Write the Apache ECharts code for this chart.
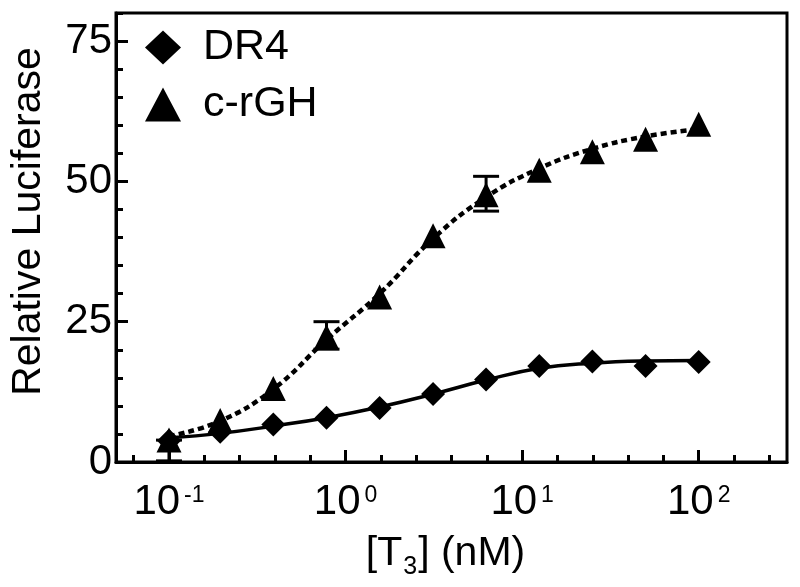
<!DOCTYPE html>
<html><head><meta charset="utf-8">
<script src="https://cdn.jsdelivr.net/npm/echarts@6/dist/echarts.min.js"></script>
<style>html,body{margin:0;padding:0;background:#fff}#c{width:800px;height:587px}</style>
</head><body><div id="c"></div>
<script>
// ---- data ----
const concentrations = [0.1, 0.195, 0.39, 0.78, 1.56, 3.13, 6.25, 12.5, 25, 50, 100]; // nM
const dr4Values  = [3.8, 5.4, 6.7, 7.9, 9.6, 12.1, 14.7, 17.1, 17.9, 17.1, 17.8];
const crghValues = [3.9, 7.4, 13.1, 22.3, 29.4, 40.3, 47.6, 52.0, 55.3, 57.5, 60.2];
// fitted curves, read at the same concentrations
const dr4Fit  = [4.3, 5.1, 6.4, 7.9, 9.8, 12.1, 14.6, 16.7, 17.6, 18.0, 18.1];
const crghFit = [4.6, 7.3, 13.0, 21.8, 30.0, 39.8, 47.2, 52.3, 55.8, 58.0, 59.3];
// visible error bars of c-rGH (lower / upper ends)
const errConc = [0.1, 0.78, 6.25];
const errLow  = [0.2, 20.1, 44.7];
const errHigh = [3.9, 25.0, 50.9];
// axes
const xMajorTicks = [0.1, 1, 10, 100];
const xMinorExponents = [-1.2,-1.0,-0.8,-0.6,-0.4,-0.2,0,0.2,0.4,0.6,0.8,1.0,1.2,1.4,1.6,1.8,2.0,2.2,2.4];
const yTickLabels = [0, 25, 50, 75];
const seriesNames = ['DR4', 'c-rGH'];

const FONT = 'Liberation Sans, Arial, Helvetica, sans-serif';
const xMin = Math.pow(10, -1.3), xMax = Math.pow(10, 2.5);
const xMinorTicks = xMinorExponents.map(e => Math.pow(10, e));

const pairs = (xs, ys) => xs.map((x, i) => [x, ys[i]]);
const errData = errConc.map((x, i) => [x, errLow[i], errHigh[i]]);

const chart = echarts.init(document.getElementById('c'), null, {renderer: 'canvas'});
chart.setOption({
  animation: false,
  backgroundColor: '#fff',
  textStyle: {fontFamily: FONT, color: '#000'},
  grid: {left: 115, right: 13, top: 13, bottom: 125, show: true, borderColor: '#000', borderWidth: 3, backgroundColor: 'transparent'},
  legend: {
    orient: 'vertical', left: 145, top: 26, padding: 0,
    itemWidth: 36, itemHeight: 34, itemGap: 14,
    itemStyle: {opacity: 1},
    textStyle: {fontSize: 43, color: '#000', fontFamily: FONT, padding: [0, 0, 0, 17]},
    data: [{name: seriesNames[0], icon: 'diamond'}, {name: seriesNames[1], icon: 'triangle'}]
  },
  xAxis: [{
    type: 'log', logBase: 10, min: xMin, max: xMax,
    axisLine: {lineStyle: {color: '#000', width: 3}},
    axisTick: {inside: true, length: 7, lineStyle: {color: '#000', width: 3}, customValues: xMinorTicks},
    splitLine: {show: false},
    axisLabel: {
      customValues: xMajorTicks, margin: 19,
      formatter: v => '{b|10}{s|' + Math.round(Math.log10(v)) + '}',
      rich: {
        b: {fontSize: 42, color: '#000', fontFamily: FONT},
        s: {fontSize: 23, color: '#000', fontFamily: FONT, verticalAlign: 'top', padding: [3, 0, 0, 4]}
      }
    },
    name: '{m|[T}{sub|3}{m|] (nM)}', nameLocation: 'middle', nameGap: 65,
    nameTextStyle: {
      rich: {
        m: {fontSize: 41, color: '#000', fontFamily: FONT, verticalAlign: 'middle'},
        sub: {fontSize: 25, color: '#000', fontFamily: FONT, verticalAlign: 'middle', padding: [28, 1, 0, 1]}
      },
      padding: [0, 12, 0, 0]
    }
  }, {
    type: 'log', logBase: 10, min: xMin, max: xMax, position: 'bottom',
    axisLine: {show: false},
    axisTick: {inside: true, length: 12, lineStyle: {color: '#000', width: 3}, customValues: xMajorTicks},
    axisLabel: {show: false}, splitLine: {show: false}
  }],
  yAxis: [{
    type: 'value', min: 0, max: 80, interval: 5,
    axisLine: {show: true, lineStyle: {color: '#000', width: 3}},
    axisTick: {show: true, inside: true, length: 7, lineStyle: {color: '#000', width: 3}},
    splitLine: {show: false},
    axisLabel: {customValues: yTickLabels, fontSize: 42, color: '#000', fontFamily: FONT, margin: 4},
    name: 'Relative Luciferase', nameLocation: 'middle', nameGap: 67,
    nameTextStyle: {fontSize: 41, color: '#000', fontFamily: FONT, padding: [0, 0, 0, 32]}
  }, {
    type: 'value', min: 0, max: 80, position: 'left',
    axisLine: {show: false},
    axisTick: {show: true, inside: true, length: 12, lineStyle: {color: '#000', width: 3}, customValues: yTickLabels},
    axisLabel: {show: false}, splitLine: {show: false}
  }],
  series: [
    {name: 'DR4 fit', type: 'line', data: pairs(concentrations, dr4Fit), smooth: 0.45, showSymbol: false,
     lineStyle: {color: '#000', width: 3.5}, z: 2, silent: true},
    {name: 'c-rGH fit', type: 'line', data: pairs(concentrations, crghFit), smooth: 0.45, showSymbol: false,
     lineStyle: {color: '#000', width: 4.5, type: [6, 4]}, z: 2, silent: true},
    {name: 'c-rGH error', type: 'custom', data: errData, z: 3, silent: true,
     encode: {x: 0, y: [1, 2]},
     renderItem: function (params, api) {
       const x = api.value(0);
       const lo = api.coord([x, api.value(1)]);
       const hi = api.coord([x, api.value(2)]);
       const hw = 13;
       const st = {stroke: '#000', lineWidth: 3, fill: null};
       return {type: 'group', children: [
         {type: 'line', shape: {x1: lo[0], y1: lo[1], x2: hi[0], y2: hi[1]}, style: st},
         {type: 'line', shape: {x1: lo[0] - hw, y1: lo[1], x2: lo[0] + hw, y2: lo[1]}, style: st},
         {type: 'line', shape: {x1: hi[0] - hw, y1: hi[1], x2: hi[0] + hw, y2: hi[1]}, style: st}
       ]};
     }},
    {name: seriesNames[0], type: 'scatter', data: pairs(concentrations, dr4Values), symbol: 'diamond',
     symbolSize: [24, 24], itemStyle: {color: '#000', opacity: 1}, z: 4},
    {name: seriesNames[1], type: 'scatter', data: pairs(concentrations, crghValues), symbol: 'triangle',
     symbolSize: [25, 25], itemStyle: {color: '#000', opacity: 1}, z: 5}
  ]
});
</script>
</body></html>
